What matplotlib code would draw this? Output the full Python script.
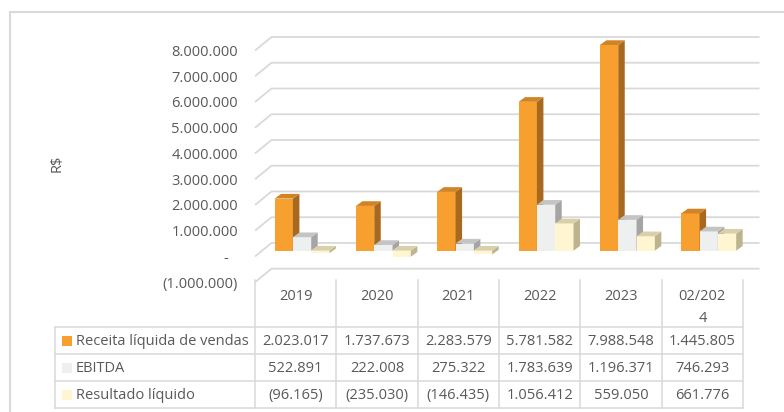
import matplotlib
matplotlib.use("Agg")
import matplotlib.pyplot as plt
import matplotlib.transforms as mtransforms
from matplotlib.patches import Polygon, Rectangle

# ---------------- data ----------------
categories = ["2019", "2020", "2021", "2022", "2023", "02/2024"]
series_names = ["Receita líquida de vendas", "EBITDA", "Resultado líquido"]
receita = [2023017, 1737673, 2283579, 5781582, 7988548, 1445805]
ebitda = [522891, 222008, 275322, 1783639, 1196371, 746293]
resultado = [-96165, -235030, -146435, 1056412, 559050, 661776]
yticks = [-1000000, 0, 1000000, 2000000, 3000000, 4000000,
          5000000, 6000000, 7000000, 8000000]
y_label = "R$"

# ---------------- style ----------------
plt.rcParams['font.family'] = ['Open Sans', 'DejaVu Sans']
FS = 10.5
TXT = '#595959'
GRID = '#d9d9d9'
face = ['#F7A02F', '#EEF0F0', '#FFF5D0']
side = ['#A8691F', '#A5A5A5', '#BDB48F']
top = ['#D08426', '#C4C4C4', '#D9CFA8']


def fmt(v):
    s = f"{abs(int(round(v))):,}".replace(",", ".")
    if v < 0:
        return f"({s})"
    if v == 0:
        return "-"
    return s


W, H = 784, 412
fig = plt.figure(figsize=(W / 100, H / 100), dpi=100)


def fx(px):
    return px / W


def fy(py):
    return (H - py) / H


# overlay axes in pixel coordinates (frame, table)
tab = fig.add_axes([0, 0, 1, 1], zorder=0)
tab.set_xlim(0, W)
tab.set_ylim(H, 0)
tab.axis('off')

# chart axes (front plane)
n = len(categories)
x0, x1 = 255, 743
y_lo, y_hi = 282.2, 50.5
ax = fig.add_axes([fx(x0), fy(y_lo), (x1 - x0) / W, (y_lo - y_hi) / H], zorder=1)
ax.set_xlim(0, n)
ax.set_ylim(yticks[0], yticks[-1])
ax.patch.set_alpha(0)
for sp in ax.spines.values():
    sp.set_visible(False)
ax.set_xticks([])
ax.set_yticks(yticks, [fmt(v) for v in yticks])
ax.tick_params(axis='y', length=0, pad=12.2, labelsize=FS, labelcolor=TXT)
# the "-" (zero) label sits a bit further left, as in accounting format
for v, lab in zip(yticks, ax.get_yticklabels()):
    if v == 0:
        lab.set_transform(lab.get_transform() +
                          mtransforms.ScaledTranslation(-10 / 100, 0,
                                                        fig.dpi_scale_trans))

ux = n / (x1 - x0)                             # data units per px (x)
uy = (yticks[-1] - yticks[0]) / (y_lo - y_hi)  # data units per px (y)

# depth offsets
bdx, bdy = 16.5 * ux, 13.5 * uy     # back wall
pbx, pby = 7.0 * ux, 5.8 * uy       # bar plane
ddx, ddy = 6.5 * ux, 4.7 * uy       # bar depth
bw = 0.225
gap = 0.155

# gridlines (side wall + back wall)
for v in yticks:
    ax.plot([0, bdx, n + bdx], [v, v + bdy, v + bdy], color=GRID, lw=1.3,
            clip_on=False, zorder=1, solid_capstyle='butt')

# bars
series = [receita, ebitda, resultado]
z = 3
for i in range(n):
    for j, vals in enumerate(series):
        v = vals[i]
        left = i + pbx + gap + j * bw
        ax.bar(left, v, width=bw, bottom=pby, align='edge', color=face[j],
               lw=0, zorder=z, clip_on=False)
        hi = pby + max(v, 0)
        lo = pby + min(v, 0)
        ax.add_patch(Polygon([(left + bw, lo), (left + bw + ddx, lo + ddy),
                              (left + bw + ddx, hi + ddy), (left + bw, hi)],
                             closed=True, fc=side[j], ec='none', zorder=z,
                             clip_on=False))
        ax.add_patch(Polygon([(left, hi), (left + bw, hi),
                              (left + bw + ddx, hi + ddy), (left + ddx, hi + ddy)],
                             closed=True, fc=top[j], ec='none', zorder=z,
                             clip_on=False))
        z += 1

# outer chart frame (top/left visible)
tab.plot([10, W + 5], [12, 12], color=GRID, lw=1.5, clip_on=False)
tab.plot([10, 10], [12, H + 5], color=GRID, lw=1.5, clip_on=False)

# y axis title
tab.text(57, 163, y_label, rotation=90, ha='center', va='center',
         fontsize=FS, color=TXT)

# data table
col_w = (x1 - x0) / n
row_edges = [327, 354, 381, 408]
tlw = 1.1
for k in range(n + 1):
    xx = x0 + k * col_w
    tab.plot([xx, xx], [280, row_edges[-1]], color=GRID, lw=tlw)
tab.plot([55, 55], [row_edges[0], row_edges[-1]], color=GRID, lw=tlw)
for ye in row_edges:
    tab.plot([55, x1], [ye, ye], color=GRID, lw=tlw)

# header labels (wrapped like the original cell)
for k, c in enumerate(categories):
    cx = x0 + (k + 0.5) * col_w
    lines = [c] if len(c) <= 6 else [c[:6], c[6:]]
    for li, t in enumerate(lines):
        tab.text(cx, 297 + li * 22, t, ha='center', va='center',
                 fontsize=FS, color=TXT)

for r, (name, vals) in enumerate(zip(series_names, series)):
    cy = (row_edges[r] + row_edges[r + 1]) / 2 + 1
    tab.add_patch(Rectangle((62, cy - 5.5), 10, 10, fc=face[r], ec='none'))
    tab.text(76, cy, name, ha='left', va='center', fontsize=FS, color=TXT)
    for k, v in enumerate(vals):
        cx = x0 + (k + 0.5) * col_w
        tab.text(cx, cy, fmt(v), ha='center', va='center', fontsize=FS,
                 color=TXT)

fig.savefig("out.png", dpi=100)
